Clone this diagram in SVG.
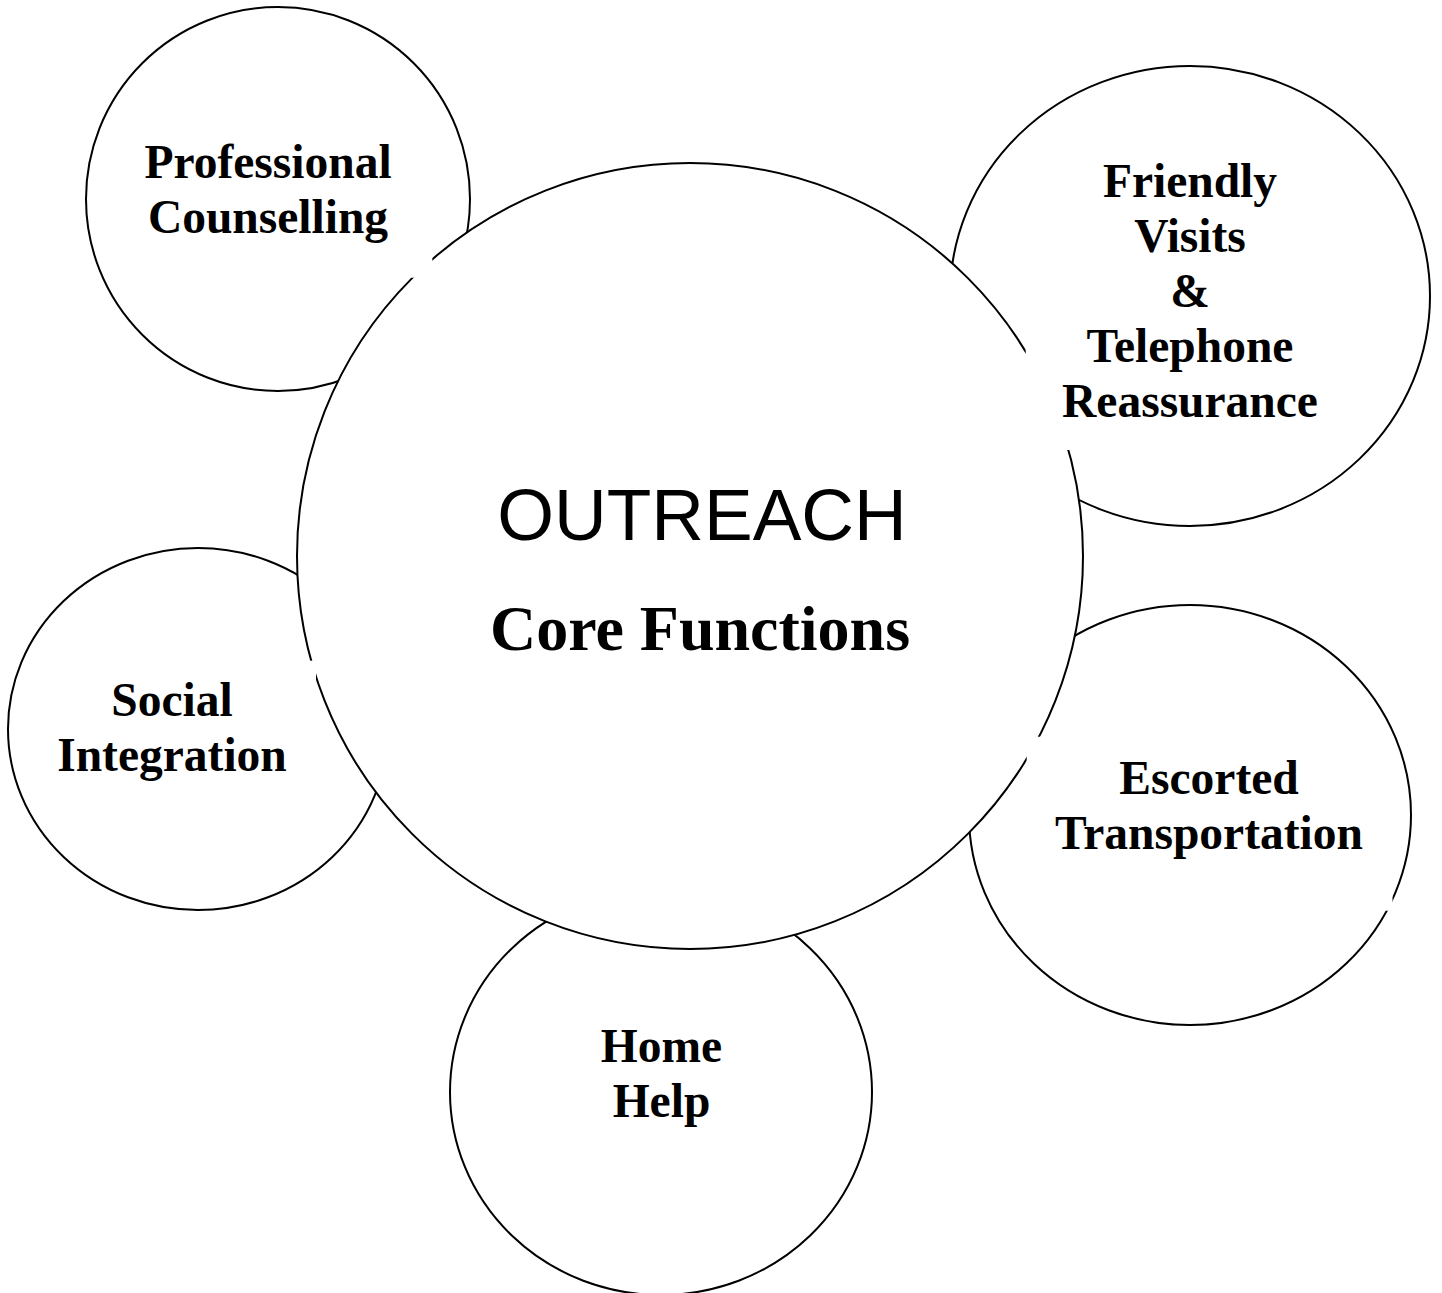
<svg xmlns="http://www.w3.org/2000/svg" width="1442" height="1293" viewBox="0 0 1442 1293">
  <style>
    .ring { fill: #ffffff; stroke: #000000; stroke-width: 2; }
    .pad { fill: #ffffff; stroke: none; }
    .label { font-family: "Liberation Serif", "Times New Roman", serif; font-weight: bold; font-size: 47.5px; fill: #000000; text-anchor: middle; }
    .title { font-family: "Liberation Sans", Arial, sans-serif; font-size: 73px; fill: #000000; text-anchor: middle; }
    .subtitle { font-family: "Liberation Serif", "Times New Roman", serif; font-weight: bold; font-size: 64px; fill: #000000; text-anchor: middle; }
  </style>
  <rect x="0" y="0" width="1442" height="1293" fill="#ffffff"/>

  <!-- satellite circles (drawn first, the hub overlaps them) -->
  <g id="professional-counselling-shape">
    <circle class="ring" cx="278" cy="199" r="192"/>
  </g>
  <g id="friendly-visits-shape">
    <ellipse class="ring" cx="1190" cy="296" rx="240" ry="230"/>
  </g>
  <g id="escorted-transportation-shape">
    <ellipse class="ring" cx="1190" cy="815" rx="221" ry="210"/>
  </g>
  <g id="social-integration-shape">
    <ellipse class="ring" cx="198" cy="729" rx="190" ry="181"/>
  </g>
  <g id="home-help-shape">
    <ellipse class="ring" cx="661" cy="1092" rx="211" ry="203"/>
  </g>

  <!-- hub -->
  <g id="outreach">
    <circle class="ring" cx="690" cy="556" r="393"/>
    <text class="title" x="702" y="540">OUTREACH</text>
    <text class="subtitle" x="700" y="650">Core Functions</text>
  </g>

  <!-- no connectors: the relation is shown by overlap -->
  <g id="connectors"/>

  <!-- label boxes (white backgrounds) and their texts -->
  <g id="professional-counselling">
    <rect class="pad" x="120" y="120" width="312.3" height="157.7"/>
    <text class="label" x="268" y="178">Professional</text>
    <text class="label" x="268" y="233">Counselling</text>
  </g>
  <g id="friendly-visits">
    <rect class="pad" x="1025.7" y="150" width="328" height="300"/>
    <text class="label" x="1190" y="197">Friendly</text>
    <text class="label" x="1190" y="252">Visits</text>
    <text class="label" x="1190" y="307">&amp;</text>
    <text class="label" x="1190" y="362">Telephone</text>
    <text class="label" x="1190" y="417">Reassurance</text>
  </g>
  <g id="escorted-transportation">
    <rect class="pad" x="1026.7" y="736.7" width="365.8" height="174"/>
    <text class="label" x="1209" y="794">Escorted</text>
    <text class="label" x="1209" y="849">Transportation</text>
  </g>
  <g id="social-integration">
    <rect class="pad" x="40" y="660.7" width="276" height="140"/>
    <text class="label" x="172" y="716">Social</text>
    <text class="label" x="172" y="771">Integration</text>
  </g>
  <g id="home-help">
    <rect class="pad" x="560" y="1015" width="205" height="115"/>
    <text class="label" x="661.5" y="1062">Home</text>
    <text class="label" x="661.5" y="1117">Help</text>
  </g>
</svg>
